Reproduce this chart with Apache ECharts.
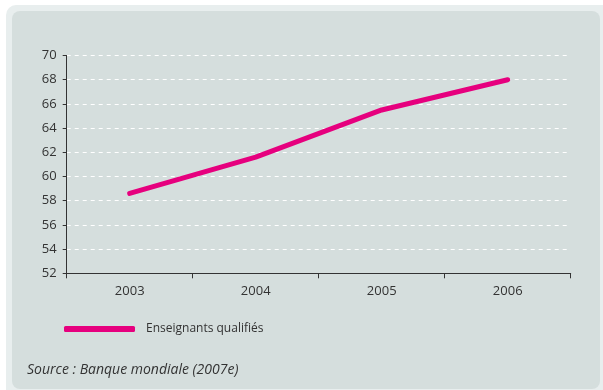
<!DOCTYPE html>
<html>
<head>
<meta charset="utf-8">
<script src="https://cdn.jsdelivr.net/npm/echarts@6/dist/echarts.min.js"></script>
<style>
  html, body { margin: 0; padding: 0; background: #ffffff; }
  #chart { width: 603px; height: 390px; }
</style>
</head>
<body>
<div id="chart"></div>
<script>
// Share of qualified teachers (%), by year
const years = ['2003', '2004', '2005', '2006'];
const qualifiedTeachers = [58.6, 61.6, 65.5, 68.0];
const seriesName = 'Enseignants qualifiés';
const sourceNote = 'Source : Banque mondiale (2007e)';

const chart = echarts.init(document.getElementById('chart'), null, { renderer: 'canvas' });
const font = '"Open Sans", "Noto Sans", sans-serif';

chart.setOption({
  animation: false,
  graphic: [
    { type: 'rect', z: -10, shape: { x: 6, y: 5, width: 610, height: 400, r: 10 },
      style: { fill: '#e8eeee' } },
    { type: 'rect', z: -9, shape: { x: 12, y: 11, width: 588, height: 378, r: 8 },
      style: { fill: '#d5dedd' } },
    { type: 'text', left: 27, top: 363,
      style: { text: sourceNote, font: 'italic 14px ' + font, fill: '#333333' } }
  ],
  grid: { left: 66.7, right: 32.3, top: 55.5, bottom: 116.7, containLabel: false },
  legend: {
    left: 59, top: 318,
    icon: 'roundRect',
    itemWidth: 71, itemHeight: 6,
    textStyle: { fontFamily: font, fontSize: 12, color: '#333333', padding: [0, 0, 0, 6] },
    data: [seriesName]
  },
  xAxis: {
    type: 'category',
    data: years,
    boundaryGap: true,
    axisLine: { lineStyle: { color: '#333333', width: 1 } },
    axisTick: { show: true, length: 5, lineStyle: { color: '#333333' } },
    axisLabel: { fontFamily: font, fontSize: 13, color: '#333333', margin: 11 },
    splitLine: { show: false }
  },
  yAxis: {
    type: 'value',
    min: 52, max: 70, interval: 2,
    axisLine: { show: true, lineStyle: { color: '#333333', width: 1 } },
    axisTick: { show: true, length: 4, lineStyle: { color: '#333333' } },
    axisLabel: { fontFamily: font, fontSize: 13, color: '#333333', margin: 10 },
    splitLine: { show: true, lineStyle: { color: '#ffffff', type: [4, 4], width: 1 } }
  },
  series: [{
    name: seriesName,
    type: 'line',
    data: qualifiedTeachers,
    showSymbol: false,
    symbol: 'none',
    smooth: false,
    color: '#e6007e',
    lineStyle: { color: '#e6007e', width: 5, cap: 'round', join: 'round' }
  }]
});
</script>
</body>
</html>
